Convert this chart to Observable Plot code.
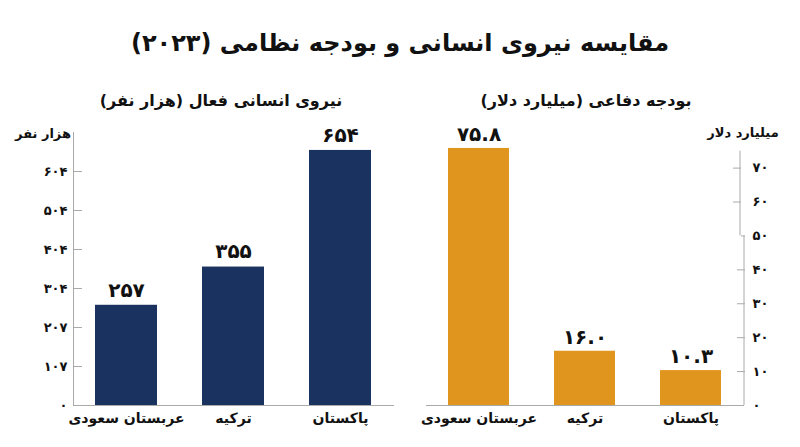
<!DOCTYPE html>
<html><head><meta charset="utf-8">
<script src="https://cdn.jsdelivr.net/npm/d3@7"></script>
<script src="https://cdn.jsdelivr.net/npm/@observablehq/plot@0.6"></script>
<style>
body{margin:0;background:#fff;}
#wrap{position:relative;width:800px;height:447px;font-family:"DejaVu Sans",sans-serif;color:#111;overflow:hidden;}
.t{position:absolute;white-space:nowrap;font-weight:bold;transform:translate(-50%,-50%);direction:rtl;}
.p{position:absolute;top:120px;}
</style></head><body><div id="wrap"></div>
<script>
const title = "مقایسه نیروی انسانی و بودجه نظامی (۲۰۲۳)";
const leftTitle = "نیروی انسانی فعال (هزار نفر)";
const rightTitle = "بودجه دفاعی (میلیارد دلار)";
const leftUnit = "هزار نفر";
const rightUnit = "میلیارد دلار";
const countries = ["عربستان سعودی", "ترکیه", "پاکستان"];
const manpower = [257, 355, 654];
const budget = [75.8, 16.0, 10.3];
const manTicks = [0, 100, 200, 300, 400, 500, 600];
const manTickLabels = ["۰", "۱۰۷", "۲۰۷", "۳۰۴", "۴۰۴", "۵۰۴", "۶۰۴"];
const budgetTicks = [0, 10, 20, 30, 40, 50, 60, 70];
const budgetBreak = 50;
const budgetAxisTop = 75;

const navy = "#1a3260", orange = "#e0961e", axisColor = "#aaaaaa", ink = "#111";
const fa = s => String(s).replace(/\d/g, d => "۰۱۲۳۴۵۶۷۸۹"[d]);

const wrap = document.getElementById("wrap");
function label(text, x, y, size) {
  const d = document.createElement("div");
  d.className = "t";
  d.textContent = text;
  d.style.left = x + "px"; d.style.top = y + "px"; d.style.fontSize = size + "px";
  wrap.appendChild(d);
}
label(title, 400, 43, 24);
label(leftTitle, 221, 100, 16);
label(rightTitle, 586, 100, 16);
label(leftUnit, 43, 133, 13);
label(rightUnit, 743, 132, 13);

const manData = countries.map((c, i) => ({c, v: manpower[i]}));
const budData = countries.map((c, i) => ({c, v: budget[i]}));
const font = {fontFamily: "DejaVu Sans, sans-serif", fontSize: "13px", color: ink, background: "transparent", overflow: "visible"};
const xBand = {domain: countries, paddingInner: 0.42, paddingOuter: 0.21, label: null};

const left = Plot.plot({
  width: 410, height: 327, marginLeft: 73, marginRight: 16, marginTop: 12, marginBottom: 42,
  style: font,
  x: xBand,
  y: {domain: [0, 700], label: null},
  marks: [
    Plot.barY(manData, {x: "c", y: "v", fill: navy}),
    Plot.frame({anchor: "left", stroke: axisColor}),
    Plot.ruleY([0], {stroke: axisColor}),
    Plot.axisY({ticks: manTicks.slice(1), tickSize: 9, dx: 9, stroke: axisColor, tickFormat: () => "", label: null}),
    Plot.axisY({ticks: manTicks, tickSize: 0, tickPadding: 6, fontWeight: "bold", fontSize: 13, fill: ink,
      tickFormat: d => manTickLabels[manTicks.indexOf(d)], label: null}),
    Plot.axisX({tickSize: 0, tickPadding: 8, fontWeight: "bold", fontSize: 14, fill: ink, label: null}),
    Plot.text(manData, {x: "c", y: "v", text: d => fa(d.v), dy: -15, fontSize: 20, fontWeight: "bold", fill: ink})
  ]
});
left.classList.add("p"); left.style.left = "0px";
wrap.appendChild(left);

function brokenAxis(index, {y}, values, {width, marginRight}) {
  const g = d3.create("svg:g").attr("stroke", axisColor).attr("fill", "none");
  const x0 = width - marginRight;
  g.append("line").attr("x1", x0).attr("x2", x0).attr("y1", y(0)).attr("y2", y(budgetBreak));
  g.append("line").attr("x1", x0 - 4).attr("x2", x0 - 4).attr("y1", y(budgetBreak)).attr("y2", y(budgetAxisTop));
  return g.node();
}

const right = Plot.plot({
  width: 390, height: 327, marginLeft: 16, marginRight: 56, marginTop: 12, marginBottom: 42,
  style: font,
  x: xBand,
  y: {domain: [0, 80.5], label: null},
  marks: [
    Plot.barY(budData, {x: "c", y: "v", fill: orange}),
    Plot.ruleY([0], {stroke: axisColor}),
    brokenAxis,
    Plot.axisY({anchor: "right", ticks: budgetTicks.filter(t => t > 0 && t < budgetBreak), tickSize: 8, dx: -8, stroke: axisColor, tickFormat: () => "", label: null}),
    Plot.axisY({anchor: "right", ticks: budgetTicks.filter(t => t > budgetBreak), tickSize: 8, dx: -12, stroke: axisColor, tickFormat: () => "", label: null}),
    Plot.axisY({anchor: "right", ticks: [budgetBreak], tickSize: 4, dx: -4, stroke: axisColor, tickFormat: () => "", label: null}),
    Plot.axisY({anchor: "right", ticks: budgetTicks, tickSize: 0, tickPadding: 8, fontWeight: "bold", fontSize: 13, fill: ink,
      tickFormat: d => fa(d), label: null}),
    Plot.axisX({tickSize: 0, tickPadding: 8, fontWeight: "bold", fontSize: 14, fill: ink, label: null}),
    Plot.text(budData, {x: "c", y: "v", text: d => fa(d.v.toFixed(1)), dy: -14, fontSize: 20, fontWeight: "bold", fill: ink})
  ]
});
right.classList.add("p"); right.style.left = "410px";
wrap.appendChild(right);
</script></body></html>
